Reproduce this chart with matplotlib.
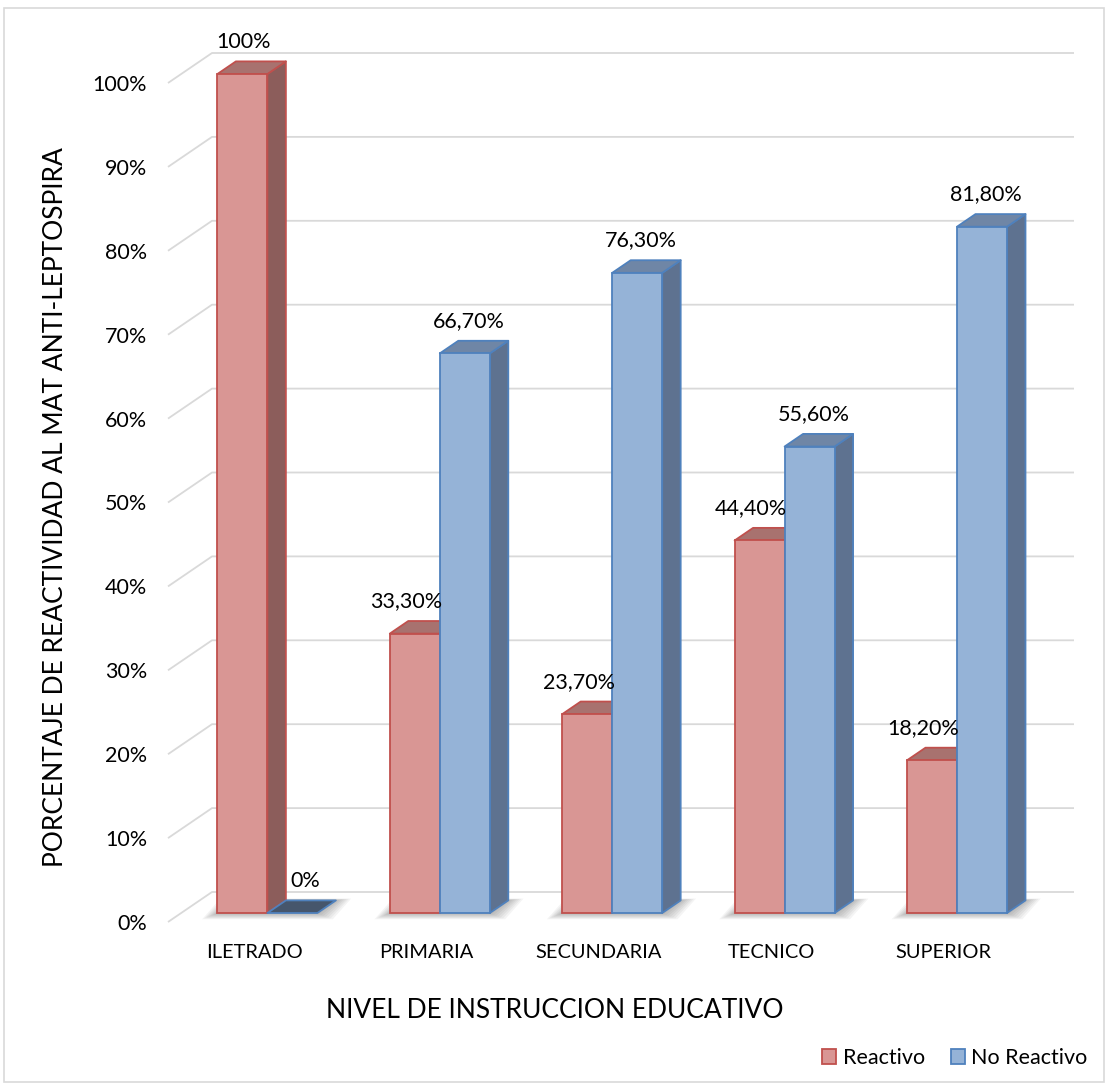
import matplotlib
matplotlib.use("Agg")
import matplotlib.pyplot as plt
from matplotlib.patches import Polygon, Rectangle, Patch
import numpy as np

# ---- data -------------------------------------------------------------
categories = ["ILETRADO", "PRIMARIA", "SECUNDARIA", "TECNICO", "SUPERIOR"]
reactivo = [100.0, 33.3, 23.7, 44.4, 18.2]
no_reactivo = [0.0, 66.7, 76.3, 55.6, 81.8]
reactivo_labels = ["100%", "33,30%", "23,70%", "44,40%", "18,20%"]
no_reactivo_labels = ["0%", "66,70%", "76,30%", "55,60%", "81,80%"]
series_names = ["Reactivo", "No Reactivo"]
y_ticks = list(range(0, 101, 10))
x_title = "NIVEL DE INSTRUCCION EDUCATIVO"
y_title = "PORCENTAJE DE REACTIVIDAD AL MAT ANTI-LEPTOSPIRA"

plt.rcParams["font.family"] = ["Lato", "DejaVu Sans"]

# ---- styling ----------------------------------------------------------
RED = dict(front="#D99694", top="#A8726F", side="#8C5D5B", edge="#C0504D")
BLUE = dict(front="#95B3D7", top="#6F86A6", side="#5E7290", edge="#4F81BD")
FLAT_BLUE_TOP = "#46566C"
GRID = "#D9D9D9"
TEXT = "#000000"

W, H = 1108, 1088
fig = plt.figure(figsize=(W / 100, H / 100), dpi=100)

# plot box geometry (pixels)
px_cat = 172.4          # width of one category slot
px_pct = 8.39           # height of one percent
depth_px = (44.0, 30.0) # oblique offset of the back wall
DX = depth_px[0] / px_cat
DY = depth_px[1] / px_pct
n = len(categories)
x0, x1 = -0.5, n - 0.5 + DX
y0, y1 = 0.0, 100.0 + DY
left_px, bottom_px = 168, 922
ax = fig.add_axes([left_px / W, 1 - bottom_px / H,
                   (x1 - x0) * px_cat / W, (y1 - y0) * px_pct / H])
ax.set_xlim(x0, x1)
ax.set_ylim(y0, y1)
for s in ax.spines.values():
    s.set_visible(False)
ax.patch.set_alpha(0)

# gridlines: short diagonal on the side wall, then along the back wall
for v in y_ticks:
    ax.plot([x0, x0 + DX, x1], [v, v + DY, v + DY], color=GRID, lw=1.3,
            zorder=1, solid_capstyle="butt", clip_on=False)

# bar geometry
t0 = 0.30                          # bar front plane (fraction of depth)
bar_w = 50.0 / px_cat              # width of each bar
bdx, bdy = 0.42 * DX, 0.42 * DY    # bar depth
shift = t0 * DX
base = t0 * DY


def shadow(xl, xr):
    # soft contact shadow on the floor around a group of bars
    for k in range(7):
        grow_x = (k + 1) * 2.2 / px_cat
        grow_y = (k + 1) * 0.9 / px_pct
        pts = [(xl - grow_x, base - grow_y), (xr + grow_x, base - grow_y),
               (xr + bdx + grow_x, base + bdy + grow_y * 0.3),
               (xl + bdx - grow_x, base + bdy + grow_y * 0.3)]
        ax.add_patch(Polygon(pts, closed=True, facecolor="black",
                             alpha=0.045, lw=0, zorder=2, clip_on=False))


def bar3d(xl, h, col, z):
    top_col = col["top"] if h > 0 else FLAT_BLUE_TOP
    xr = xl + bar_w
    side = [(xr, base), (xr + bdx, base + bdy),
            (xr + bdx, base + h + bdy), (xr, base + h)]
    top = [(xl, base + h), (xr, base + h),
           (xr + bdx, base + h + bdy), (xl + bdx, base + h + bdy)]
    if h > 0:
        ax.add_patch(Polygon(side, closed=True, facecolor=col["side"],
                             edgecolor=col["edge"], lw=1.3, joinstyle="round",
                             zorder=z, clip_on=False))
    ax.add_patch(Polygon(top, closed=True, facecolor=top_col,
                         edgecolor=col["edge"], lw=1.3, joinstyle="round",
                         zorder=z, clip_on=False))
    if h > 0:
        ax.bar(xl, h, width=bar_w, bottom=base, align="edge",
               color=col["front"], edgecolor=col["edge"], lw=1.3,
               zorder=z + 0.5, clip_on=False)


for i in range(n):
    xc = i + shift
    shadow(xc - bar_w, xc + bar_w)
    bar3d(xc - bar_w, reactivo[i], RED, 3 + i * 2)
    bar3d(xc, no_reactivo[i], BLUE, 4 + i * 2)

# value labels above each bar
for i in range(n):
    xc = i + shift
    red_dx = 1 if reactivo[i] >= 100 else -6
    blue_dx = 9 if no_reactivo[i] <= 0 else 3
    for xl, v, lab, dxpt in ((xc - bar_w, reactivo[i], reactivo_labels[i], red_dx),
                             (xc, no_reactivo[i], no_reactivo_labels[i], blue_dx)):
        ax.annotate(lab, xy=(xl + bar_w / 2, base + v + bdy),
                    xytext=(dxpt, 7), textcoords="offset points",
                    ha="center", va="bottom", fontsize=15.5, color=TEXT,
                    zorder=20, annotation_clip=False)

# axes ticks
ax.set_yticks(y_ticks)
ax.set_yticklabels([f"{v}%" for v in y_ticks], fontsize=15.5, color=TEXT)
ax.set_xticks(range(n))
ax.set_xticklabels(categories, fontsize=14.4, color=TEXT)
ax.tick_params(axis="y", length=0, pad=15)
ax.tick_params(axis="x", length=0, pad=16)

# titles
fig.text(555 / W, 1 - 1010 / H, x_title, ha="center", va="center",
         fontsize=19, color=TEXT)
fig.text(56 / W, 1 - 507 / H, y_title, ha="center", va="center",
         rotation=90, fontsize=19, color=TEXT)

# legend
handles = [Patch(facecolor=RED["front"], edgecolor=RED["edge"], lw=1.3),
           Patch(facecolor=BLUE["front"], edgecolor=BLUE["edge"], lw=1.3)]
fig.legend(handles, series_names, loc="center right",
           bbox_to_anchor=(1096 / W, 1 - 1058 / H), ncol=2, frameon=False,
           fontsize=15.5, handlelength=0.65, handleheight=0.65,
           handletextpad=0.3, columnspacing=1.2, borderaxespad=0)

# outer chart border
fig.add_artist(Rectangle((4 / W, 6 / H), (W - 8) / W, (H - 14) / H,
                         transform=fig.transFigure, fill=False,
                         edgecolor=GRID, lw=1.2))

fig.savefig("out.png", dpi=100)
